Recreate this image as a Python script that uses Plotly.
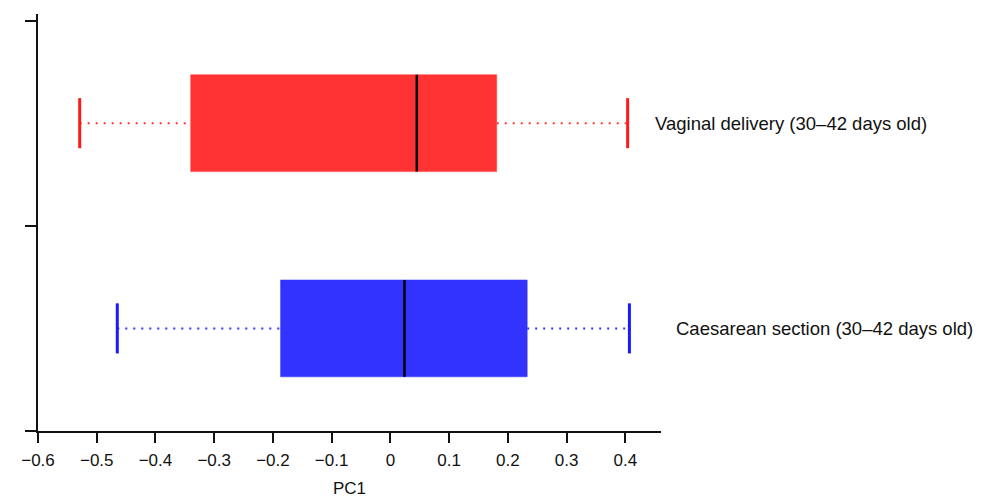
import plotly.graph_objects as go

# ---- data ----
groups = ["Vaginal delivery (30–42 days old)", "Caesarean section (30–42 days old)"]
ypos = [1.5, 0.5]
lower_fence = [-0.529, -0.465]
q1 = [-0.340, -0.187]
median = [0.045, 0.024]
q3 = [0.181, 0.233]
upper_fence = [0.404, 0.407]
fill_colors = ["#FF3333", "#3333FF"]
cap_colors = ["#FF1A1A", "#1A1AFF"]

x_ticks = [-0.6, -0.5, -0.4, -0.3, -0.2, -0.1, 0, 0.1, 0.2, 0.3, 0.4]
x_ticktext = ["\u22120.6", "\u22120.5", "\u22120.4", "\u22120.3", "\u22120.2", "\u22120.1", "0", "0.1", "0.2", "0.3", "0.4"]

BOX_HALF = 0.236
CAP_HALF = 0.122

fig = go.Figure()
for i in range(len(groups)):
    y = ypos[i]
    # box
    fig.add_trace(go.Scatter(
        x=[q1[i], q3[i], q3[i], q1[i], q1[i]],
        y=[y - BOX_HALF, y - BOX_HALF, y + BOX_HALF, y + BOX_HALF, y - BOX_HALF],
        fill="toself", fillcolor=fill_colors[i], mode="lines",
        line=dict(color=fill_colors[i], width=0.5), hoverinfo="skip", showlegend=False))
    # median
    fig.add_trace(go.Scatter(
        x=[median[i], median[i]], y=[y - BOX_HALF, y + BOX_HALF], mode="lines",
        line=dict(color="black", width=2.5), showlegend=False, hoverinfo="skip"))
    # whiskers
    for a, b in [(lower_fence[i], q1[i]), (q3[i], upper_fence[i])]:
        fig.add_trace(go.Scatter(
            x=[a, b], y=[y, y], mode="lines",
            line=dict(color=fill_colors[i], width=2, dash="2px,6px"),
            showlegend=False, hoverinfo="skip"))
    # caps
    for c in [lower_fence[i], upper_fence[i]]:
        fig.add_trace(go.Scatter(
            x=[c, c], y=[y - CAP_HALF, y + CAP_HALF], mode="lines",
            line=dict(color=cap_colors[i], width=3), showlegend=False, hoverinfo="skip"))

label_x = [0.987, 1.021]
for i, g in enumerate(groups):
    fig.add_annotation(text=g, xref="paper", yref="y", x=label_x[i], y=ypos[i],
                       xanchor="left", yanchor="middle", showarrow=False,
                       font=dict(size=18.5, color="#111111"))

fig.update_layout(
    width=974, height=490,
    margin=dict(l=30, r=321, t=6, b=66.5),
    paper_bgcolor="white", plot_bgcolor="white",
    font=dict(family="Liberation Sans, Arial, sans-serif", color="#111111"),
    xaxis=dict(range=[-0.6, 0.4608], tickvals=x_ticks, ticktext=x_ticktext,
               showline=True, linecolor="#111111", linewidth=2,
               ticks="outside", ticklen=10, tickwidth=2, tickcolor="#111111",
               showgrid=False, zeroline=False, tickfont=dict(size=17),
               ticklabelstandoff=3, automargin=False,
               title=dict(text="PC1", font=dict(size=17), standoff=14)),
    yaxis=dict(range=[0, 2.032], tickvals=[0, 1, 2], showticklabels=False,
               showline=True, linecolor="#111111", linewidth=2,
               ticks="outside", ticklen=11, tickwidth=2, tickcolor="#111111",
               showgrid=False, zeroline=False, automargin=False),
)

fig.write_html("out.html")
